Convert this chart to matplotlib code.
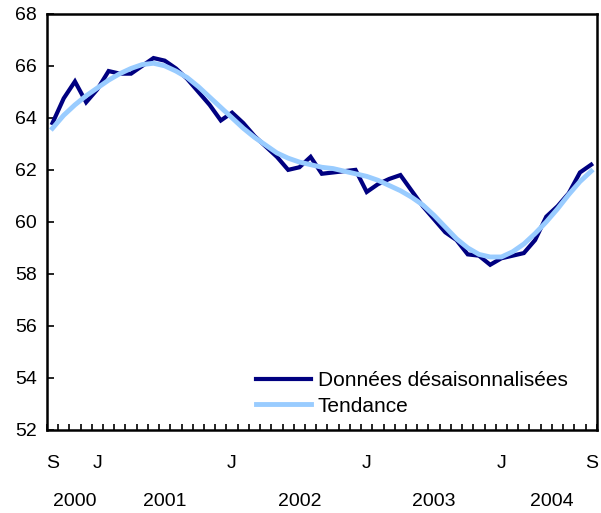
import numpy as np
import matplotlib
matplotlib.use("Agg")
import matplotlib.pyplot as plt

plt.rcParams['font.family'] = ['Liberation Sans', 'DejaVu Sans']

# Mois de septembre 2000 à septembre 2004
mois = ['S', 'O', 'N', 'D',
        'J', 'F', 'M', 'A', 'M', 'J', 'J', 'A', 'S', 'O', 'N', 'D',
        'J', 'F', 'M', 'A', 'M', 'J', 'J', 'A', 'S', 'O', 'N', 'D',
        'J', 'F', 'M', 'A', 'M', 'J', 'J', 'A', 'S', 'O', 'N', 'D',
        'J', 'F', 'M', 'A', 'M', 'J', 'J', 'A', 'S']
annees = [2000] * 4 + [2001] * 12 + [2002] * 12 + [2003] * 12 + [2004] * 9

donnees = [63.8, 64.75, 65.4, 64.6, 65.1, 65.8, 65.7, 65.7, 66.0, 66.3,
           66.2, 65.9, 65.5, 65.0, 64.5, 63.9, 64.2, 63.8, 63.3, 62.9,
           62.5, 62.0, 62.1, 62.5, 61.85, 61.9, 61.95, 62.0, 61.15, 61.45,
           61.65, 61.8, 61.2, 60.6, 60.1, 59.6, 59.3, 58.75, 58.7, 58.35,
           58.6, 58.7, 58.8, 59.3, 60.2, 60.6, 61.1, 61.9, 62.2]

tendance = [63.6, 64.1, 64.5, 64.85, 65.15, 65.45, 65.7, 65.9, 66.05, 66.1,
            66.0, 65.8, 65.55, 65.2, 64.8, 64.4, 64.0, 63.6, 63.25, 62.95,
            62.65, 62.45, 62.3, 62.2, 62.1, 62.05, 61.95, 61.85, 61.75, 61.6,
            61.4, 61.2, 60.95, 60.65, 60.25, 59.8, 59.35, 59.0, 58.75, 58.65,
            58.65, 58.85, 59.15, 59.55, 60.0, 60.5, 61.05, 61.55, 61.95]

# Affichage graphique
x = np.arange(len(mois))
fig = plt.figure(figsize=(6.01, 5.13), dpi=100)
ax = fig.add_axes([0.078, 0.162, 0.915, 0.811])

ax.plot(x, donnees, color='#000080', lw=3, solid_joinstyle='miter',
        label='Données désaisonnalisées')
ax.plot(x, tendance, color='#99CCFF', lw=3.5, label='Tendance')

ax.set_xlim(-0.5, len(mois) - 0.5)
ax.set_ylim(52, 68)
ax.set_yticks(np.arange(52, 69, 2))
ax.tick_params(axis='y', direction='in', length=5, width=1.2, labelsize=14, pad=7)

# Ticks aux limites des mois, étiquettes S/J au centre
ax.set_xticks(np.arange(-0.5, len(mois), 1))
ax.set_xticklabels([])
ax.tick_params(axis='x', direction='in', length=4, width=1.2)
for i, m in enumerate(mois):
    if i == 0 or i == len(mois) - 1 or (m == 'J' and mois[i + 1] == 'F'):
        ax.text(i, -0.08, m, transform=ax.get_xaxis_transform(),
                ha='center', va='center', fontsize=14)

for an in sorted(set(annees)):
    pos = np.mean([i for i, a in enumerate(annees) if a == an]) + 0.5
    ax.text(pos, -0.172, str(an), transform=ax.get_xaxis_transform(),
            ha='center', va='center', fontsize=14)

for s in ax.spines.values():
    s.set_linewidth(1.8)

ax.legend(loc='lower right', bbox_to_anchor=(0.947, 0.034), frameon=False,
          fontsize=15, handlelength=2.65, handletextpad=0.33,
          labelspacing=0.3, borderaxespad=0, borderpad=0)

fig.savefig('out.png', dpi=100)
